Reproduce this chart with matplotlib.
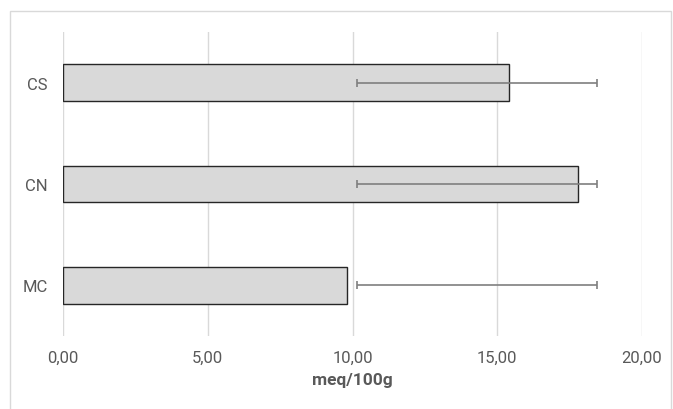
import matplotlib
matplotlib.use("Agg")
import matplotlib.pyplot as plt
from matplotlib.patches import Rectangle
import numpy as np

categories = ["MC", "CN", "CS"]
values = [9.80, 17.80, 15.42]
err_low = [10.17, 10.17, 10.17]
err_high = [18.45, 18.45, 18.45]
xticks = [0, 5, 10, 15, 20]
xlabel = "meq/100g"

plt.rcParams['font.family'] = ['Roboto', 'DejaVu Sans']

W, H = 673, 410
fig = plt.figure(figsize=(W / 100, H / 100), dpi=100)
ax = fig.add_axes([63 / W, 1 - 337 / H, (642 - 63) / W, (337 - 33) / H])

y = np.arange(len(categories))
ax.barh(y, values, height=0.36, color="#d9d9d9", edgecolor="#262626", linewidth=1.0, zorder=2)

lo = np.array(err_low)
hi = np.array(err_high)
mid = (lo + hi) / 2
half = (hi - lo) / 2
ax.errorbar(mid, y, xerr=half, fmt="none", ecolor="#7f7f7f", elinewidth=1.2,
            capsize=3, capthick=1.2, zorder=3)

ax.set_xlim(0, 20)
ax.set_ylim(-0.5, 2.5)
ax.set_xticks(xticks)
ax.set_xticklabels([f"{v:.2f}".replace(".", ",") for v in xticks])
ax.set_yticks(y)
ax.set_yticklabels(categories)
ax.tick_params(axis="both", length=0, labelsize=12, labelcolor="#595959")
ax.tick_params(axis="x", pad=10)
ax.tick_params(axis="y", pad=11)
ax.grid(axis="x", color="#d9d9d9", linewidth=1.0, zorder=0)
ax.set_axisbelow(True)
for s in ax.spines.values():
    s.set_visible(False)
ax.set_xlabel(xlabel, fontsize=12.5, fontweight="bold", color="#595959", labelpad=5)

fig.patches.append(Rectangle((10 / W, -0.01), (671 - 10) / W, 1 - 12 / H + 0.01,
                             transform=fig.transFigure, fill=False,
                             edgecolor="#d9d9d9", linewidth=1.0))

fig.savefig("out.png", dpi=100)
